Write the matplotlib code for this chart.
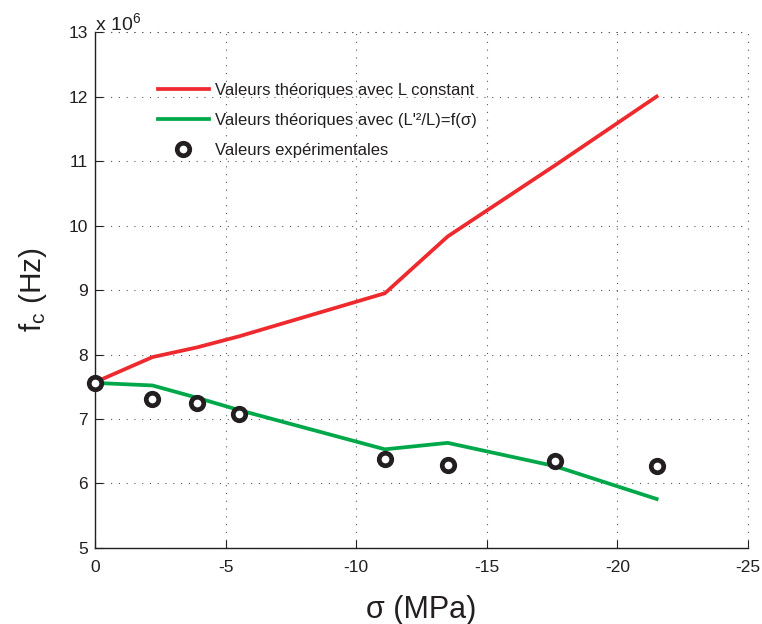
import numpy as np
import matplotlib
matplotlib.use("Agg")
from matplotlib import pyplot as plt
from matplotlib.ticker import FuncFormatter

plt.rcParams["font.family"] = ["Liberation Sans", "DejaVu Sans"]
plt.rcParams["mathtext.fontset"] = "custom"
plt.rcParams["mathtext.rm"] = "Liberation Sans"
plt.rcParams["mathtext.it"] = "Liberation Sans:italic"
plt.rcParams["axes.unicode_minus"] = False

# stress (MPa)
sigma = [0, -2.2, -3.9, -5.5, -11.1, -13.5, -17.6, -21.5]
# theoretical frequencies, L constant (Hz)
fc_const = [7.57e6, 7.96e6, 8.11e6, 8.28e6, 8.95e6, 9.83e6, 10.93e6, 12.0e6]
# theoretical frequencies, (L'^2/L)=f(sigma) (Hz)
fc_var = [7.56e6, 7.52e6, 7.33e6, 7.14e6, 6.53e6, 6.63e6, 6.27e6, 5.76e6]
# measured frequencies (Hz)
fc_exp = [7.56e6, 7.31e6, 7.25e6, 7.08e6, 6.38e6, 6.29e6, 6.35e6, 6.27e6]

fig = plt.figure(figsize=(7.62, 6.24), dpi=100)
ax = fig.add_axes([0.1247, 0.1218, 0.857, 0.8269])

ax.plot(sigma, fc_const, color="#ee2a2e", lw=2.7,
        label="Valeurs théoriques avec L constant", zorder=3)
ax.plot(sigma, fc_var, color="#00a84a", lw=2.7,
        label="Valeurs théoriques avec (L'²/L)=f(σ)", zorder=3)
ax.plot(sigma, fc_exp, ls="none", marker="o", ms=9, mfc="white",
        mec="#231f20", mew=3.4, label="Valeurs expérimentales", zorder=4,
        clip_on=False)

ax.set_xlim(0, -25)
ax.set_ylim(5e6, 13e6)
ax.set_xticks([0, -5, -10, -15, -20, -25])
ax.set_yticks(np.arange(5, 14) * 1e6)
ax.yaxis.set_major_formatter(FuncFormatter(lambda v, p: "%d" % round(v / 1e6)))
ax.xaxis.set_major_formatter(FuncFormatter(lambda v, p: "%d" % round(v)))
ax.tick_params(direction="in", length=6, labelsize=12.5, color="#231f20",
               labelcolor="#231f20")
ax.tick_params(axis="x", pad=9)
ax.tick_params(axis="y", pad=5)

for s in ["top", "right"]:
    ax.spines[s].set_visible(False)
for s in ["left", "bottom"]:
    ax.spines[s].set_color("#231f20")
    ax.spines[s].set_linewidth(1.0)

ax.grid(True, color="0.35", lw=0.8, linestyle=(0, (1, 6)))
ax.set_axisbelow(True)
# grid lines on the top and right edges
ax.axhline(13e6, color="0.35", lw=0.8, linestyle=(0, (1, 6)), clip_on=False)
ax.axvline(-25, color="0.35", lw=0.8, linestyle=(0, (1, 6)), clip_on=False)

ax.set_xlabel("σ (MPa)", fontsize=22, color="#231f20", labelpad=14)
ax.set_ylabel("f$_{\\mathrm{c}}$ (Hz)", fontsize=21.5, color="#231f20",
              labelpad=14)

fig.text(0.1247, 0.951, "x 10$^{6}$", fontsize=14, color="#231f20",
         ha="left", va="baseline")

leg = ax.legend(loc="upper left", bbox_to_anchor=(0.0965, 0.902), frameon=False,
                fontsize=12, handlelength=3.05, handletextpad=0.36,
                labelspacing=0.92, borderpad=0, borderaxespad=0)
for t in leg.get_texts():
    t.set_color("#231f20")

fig.savefig("out.png", dpi=100)
